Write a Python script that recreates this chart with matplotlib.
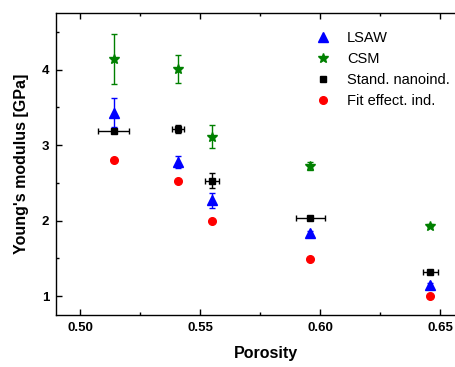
import matplotlib
matplotlib.use("Agg")
import matplotlib.pyplot as plt
from matplotlib.ticker import MultipleLocator, FormatStrFormatter
from matplotlib.lines import Line2D

plt.rcParams['font.family'] = ['Liberation Sans', 'DejaVu Sans']

# Porosity of the five films
porosity = [0.514, 0.541, 0.555, 0.596, 0.646]

# LSAW
lsaw = [3.43, 2.78, 2.27, 1.83, 1.15]
lsaw_err = [0.19, 0.08, 0.10, 0.03, 0.03]

# CSM
csm = [4.14, 4.01, 3.11, 2.72, 1.93]
csm_err = [0.33, 0.19, 0.15, 0.05, 0.02]

# Standard nanoindentation
stand = [3.19, 3.21, 2.53, 2.03, 1.32]
stand_err = [0.02, 0.05, 0.10, 0.02, 0.02]
stand_xerr = [0.0065, 0.0025, 0.003, 0.006, 0.003]

# Fit with effective indenter
fit = [2.80, 2.53, 2.00, 1.49, 1.00]

labels = ['LSAW', 'CSM', 'Stand. nanoind.', 'Fit effect. ind.']

fig = plt.figure(figsize=(4.56, 3.67), dpi=100)
x0, x1 = 0.49, 0.665
ax = fig.add_axes([56 / 456, 1 - 315 / 367, (x1 - x0) * 2400 / 456, 302 / 367])

ax.errorbar(porosity, lsaw, yerr=lsaw_err, fmt='^', color='blue', ms=6.5,
            ecolor='blue', elinewidth=1, capsize=2.5)
ax.errorbar(porosity, csm, yerr=csm_err, fmt='*', color='green', ms=7.5,
            ecolor='green', elinewidth=1, capsize=2.5)
ax.errorbar(porosity, stand, yerr=stand_err, xerr=stand_xerr, fmt='s',
            color='black', ms=5, ecolor='black', elinewidth=1, capsize=2.5)
ax.plot(porosity, fit, 'o', color='red', ms=5.5, linestyle='none')

ax.set_xlim(x0, x1)
ax.set_ylim(0.75, 4.75)
ax.xaxis.set_major_locator(MultipleLocator(0.05))
ax.xaxis.set_minor_locator(MultipleLocator(0.025))
ax.yaxis.set_major_locator(MultipleLocator(1))
ax.yaxis.set_minor_locator(MultipleLocator(0.5))
ax.xaxis.set_major_formatter(FormatStrFormatter('%.2f'))

ax.tick_params(which='both', direction='in', top=True, right=True, width=1)
ax.tick_params(which='major', length=4, labelsize=9.5, pad=5)
ax.tick_params(which='minor', length=2.2)
for lab in ax.get_xticklabels() + ax.get_yticklabels():
    lab.set_fontweight('bold')
for sp in ax.spines.values():
    sp.set_linewidth(1)

ax.set_xlabel('Porosity', fontsize=11.5, fontweight='bold', labelpad=9)
ax.set_ylabel("Young's modulus [GPa]", fontsize=11.5, fontweight='bold', labelpad=9)

handles = [
    Line2D([], [], marker='^', color='blue', ms=6.5, linestyle='none'),
    Line2D([], [], marker='*', color='green', ms=7.5, linestyle='none'),
    Line2D([], [], marker='s', color='black', ms=5, linestyle='none'),
    Line2D([], [], marker='o', color='red', ms=5.5, linestyle='none'),
]
fig.legend(handles, labels, loc='upper left', bbox_to_anchor=(0.648, 0.951),
           frameon=False, fontsize=10.5, numpoints=1, handletextpad=0.62,
           labelspacing=0.47)

fig.savefig('out.png', dpi=100)
